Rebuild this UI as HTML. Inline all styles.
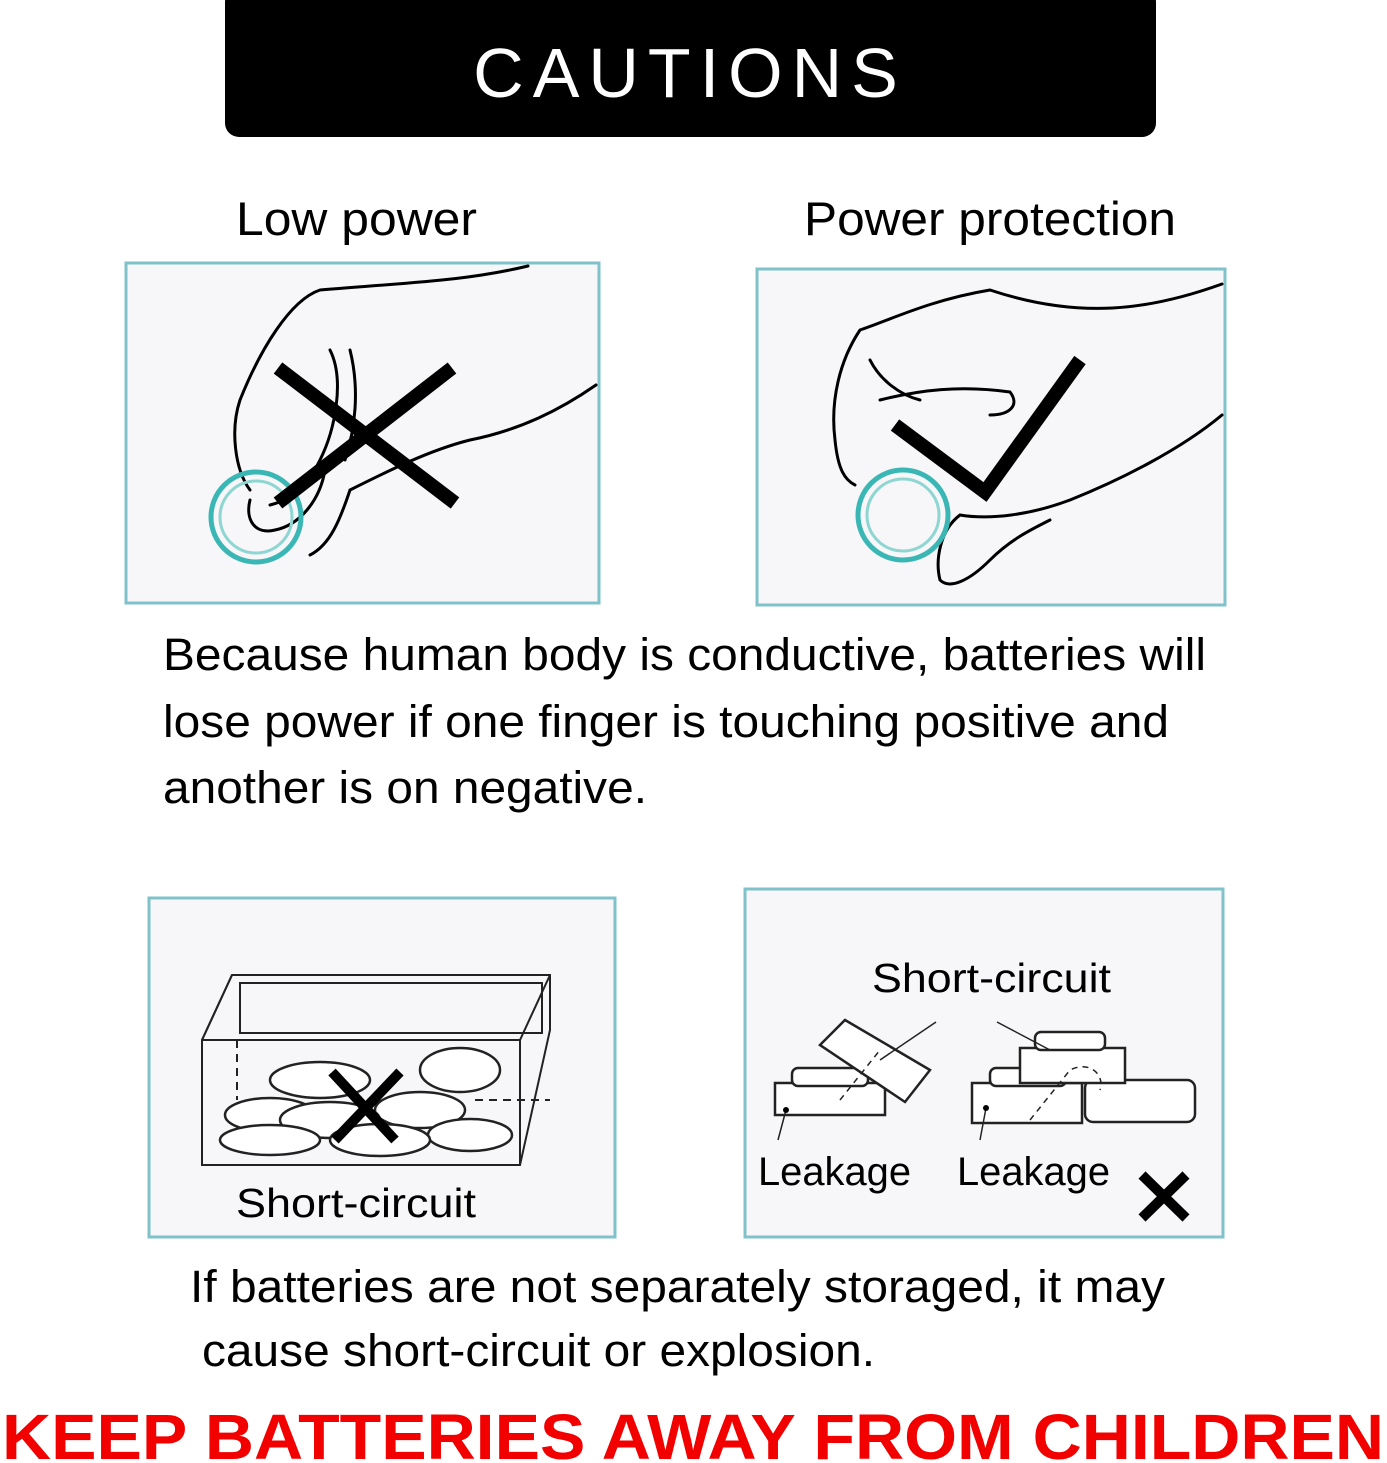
<!DOCTYPE html>
<html><head><meta charset="utf-8"><style>
html,body{margin:0;padding:0;background:#fff;}
svg{display:block;}
text{font-family:"Liberation Sans",sans-serif;}
</style></head><body>
<svg width="1387" height="1463" viewBox="0 0 1387 1463" xmlns="http://www.w3.org/2000/svg">
<rect x="0" y="0" width="1387" height="1463" fill="#fff"/>
<rect x="225" y="-12" width="931" height="149" rx="14" fill="#000"/>
<text x="690" y="97" fill="#fff" font-size="70" text-anchor="middle" letter-spacing="9">CAUTIONS</text>

<text x="236" y="235" font-size="47" fill="#000" textLength="241" lengthAdjust="spacingAndGlyphs">Low power</text>
<text x="804" y="235" font-size="47" fill="#000" textLength="372" lengthAdjust="spacingAndGlyphs">Power protection</text>

<rect x="126" y="263" width="473" height="340" fill="#f7f6f8" stroke="#7fc2ca" stroke-width="3"/>
<g fill="none" stroke="#000" stroke-width="3" stroke-linecap="round">
<path d="M528 266 C470 280 420 282 320 290 C290 300 260 350 240 400 C230 430 235 470 250 490"/>
<path d="M596 385 C560 410 520 430 470 440 C430 450 390 470 350 490 C340 520 330 545 310 555"/>
<path d="M330 350 C345 380 335 430 320 460 C305 490 290 500 270 505"/>
<path d="M250 500 C245 520 255 535 275 530 C300 525 320 500 325 470"/>
<path d="M350 350 C360 390 355 430 345 460"/>
</g>
<circle cx="256" cy="517" r="45" fill="none" stroke="#3ab7b5" stroke-width="5"/>
<circle cx="256" cy="517" r="36" fill="none" stroke="#8ed6d2" stroke-width="3"/>
<line x1="278" y1="368" x2="455" y2="503" stroke="#000" stroke-width="14"/>
<line x1="452" y1="368" x2="278" y2="503" stroke="#000" stroke-width="14"/>

<rect x="757" y="269" width="468" height="336" fill="#f7f6f8" stroke="#7fc2ca" stroke-width="3"/>
<g fill="none" stroke="#000" stroke-width="3" stroke-linecap="round">
<path d="M1222 284 C1150 310 1080 320 990 290 C930 300 890 320 860 330 C840 360 830 400 835 440 C838 470 845 480 855 485"/>
<path d="M1222 415 C1180 450 1120 480 1070 500 C1030 515 990 520 960 515 C940 530 935 560 940 580 C950 590 970 580 990 560 C1010 540 1030 530 1050 520"/>
<path d="M880 400 C920 390 960 385 1010 392 C1020 405 1010 415 990 415"/>
<path d="M870 360 C880 380 900 395 920 400"/>
</g>
<circle cx="903" cy="515" r="45" fill="none" stroke="#3ab7b5" stroke-width="5"/>
<circle cx="903" cy="515" r="36" fill="none" stroke="#8ed6d2" stroke-width="3"/>
<polyline points="895,425 985,492 1080,360" fill="none" stroke="#000" stroke-width="14"/>

<text x="163" y="670" font-size="45" fill="#000" textLength="1043" lengthAdjust="spacingAndGlyphs">Because human body is conductive, batteries will</text>
<text x="163" y="737" font-size="45" fill="#000" textLength="1006" lengthAdjust="spacingAndGlyphs">lose power if one finger is touching positive and</text>
<text x="163" y="803" font-size="45" fill="#000" textLength="484" lengthAdjust="spacingAndGlyphs">another is on negative.</text>

<rect x="149" y="898" width="466" height="339" fill="#f7f6f8" stroke="#7fc2ca" stroke-width="3"/>
<g fill="none" stroke="#222" stroke-width="2">
<polygon points="232,975 550,975 550,1030 520,1165 202,1165 202,1040"/>
<polyline points="202,1040 232,975"/>
<polyline points="202,1040 520,1040 550,975"/>
<polyline points="520,1040 520,1165"/>
<rect x="240" y="983" width="302" height="50"/>
<line x1="237" y1="1040" x2="237" y2="1100" stroke-dasharray="8,6"/>
<line x1="475" y1="1100" x2="550" y2="1100" stroke-dasharray="8,6"/>
</g>
<g fill="#fff" stroke="#222" stroke-width="2.5">
<ellipse cx="320" cy="1080" rx="50" ry="18"/>
<ellipse cx="460" cy="1070" rx="40" ry="22"/>
<ellipse cx="420" cy="1110" rx="45" ry="18"/>
<ellipse cx="270" cy="1115" rx="45" ry="17"/>
<ellipse cx="330" cy="1120" rx="50" ry="18"/>
<ellipse cx="470" cy="1135" rx="42" ry="16"/>
<ellipse cx="270" cy="1140" rx="50" ry="15"/>
<ellipse cx="380" cy="1140" rx="50" ry="16"/>
</g>
<line x1="332" y1="1072" x2="395" y2="1140" stroke="#000" stroke-width="10"/>
<line x1="400" y1="1072" x2="335" y2="1140" stroke="#000" stroke-width="10"/>
<text x="236" y="1217" font-size="41" fill="#000" textLength="240" lengthAdjust="spacingAndGlyphs">Short-circuit</text>

<rect x="745" y="889" width="478" height="348" fill="#f7f6f8" stroke="#7fc2ca" stroke-width="3"/>
<text x="872" y="992" font-size="41" fill="#000" textLength="239" lengthAdjust="spacingAndGlyphs">Short-circuit</text>
<g fill="#fff" stroke="#222" stroke-width="2.5">
<rect x="775" y="1083" width="110" height="32"/>
<rect x="792" y="1068" width="76" height="18" rx="6"/>
<polygon points="820,1045 845,1020 930,1070 905,1102"/>
<rect x="972" y="1083" width="110" height="40"/>
<rect x="990" y="1068" width="76" height="18" rx="6"/>
<rect x="1085" y="1080" width="110" height="42" rx="8"/>
<rect x="1020" y="1048" width="105" height="35"/>
<rect x="1035" y="1032" width="70" height="18" rx="6"/>
</g>
<g stroke="#222" stroke-width="1.5" fill="none">
<line x1="880" y1="1060" x2="936" y2="1022"/>
<line x1="997" y1="1022" x2="1050" y2="1050"/>
<line x1="786" y1="1110" x2="778" y2="1140"/>
<line x1="986" y1="1108" x2="980" y2="1140"/>
<path d="M840 1100 L880 1050" stroke-dasharray="6,5"/>
<path d="M1030 1120 L1070 1070 C1090 1060 1105 1075 1100 1090" stroke-dasharray="6,5"/>
</g>
<circle cx="786" cy="1110" r="3" fill="#000"/>
<circle cx="986" cy="1108" r="3" fill="#000"/>
<text x="758" y="1185" font-size="40" fill="#000" textLength="153" lengthAdjust="spacingAndGlyphs">Leakage</text>
<text x="957" y="1185" font-size="40" fill="#000" textLength="153" lengthAdjust="spacingAndGlyphs">Leakage</text>
<line x1="1142" y1="1175" x2="1186" y2="1218" stroke="#000" stroke-width="10"/>
<line x1="1186" y1="1175" x2="1142" y2="1218" stroke="#000" stroke-width="10"/>

<text x="190" y="1302" font-size="45" fill="#000" textLength="975" lengthAdjust="spacingAndGlyphs">If batteries are not separately storaged, it may</text>
<text x="202" y="1366" font-size="45" fill="#000" textLength="673" lengthAdjust="spacingAndGlyphs">cause short-circuit or explosion.</text>

<text x="2" y="1459" font-size="64" font-weight="bold" fill="#f20000" textLength="1382" lengthAdjust="spacingAndGlyphs">KEEP BATTERIES AWAY FROM CHILDREN</text>
</svg>
</body></html>
